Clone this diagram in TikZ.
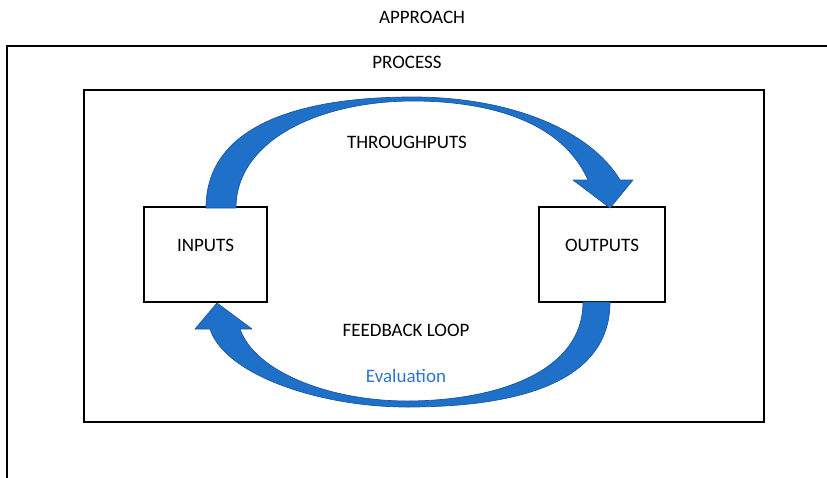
\documentclass[tikz,border=0pt]{standalone}
\usepackage{fontspec}
\setmainfont{Carlito}
\definecolor{arrowblue}{RGB}{30,112,200}
\definecolor{arrowedge}{RGB}{28,88,160}
\definecolor{evalblue}{RGB}{46,117,204}
\begin{document}
\begin{tikzpicture}[x=1pt,y=-1pt,
  every node/.style={font=\fontsize{19}{23}\selectfont},
  lbl/.style={anchor=base, inner sep=0pt},
  frame/.style={draw=black, line width=1.8pt},
  boxnode/.style={draw=black, line width=1.6pt, minimum width=123pt, minimum height=95pt, inner sep=0pt},
  bigarrow/.style={fill=arrowblue, draw=arrowedge, line width=0.7pt, line join=round}]
\useasboundingbox (0,0) rectangle (827,477);
% outer frame (open right and bottom)
\coordinate (obl) at (7,480);
\coordinate (otl) at (7,46);
\coordinate (otr) at (830,46);
\draw[frame] (obl) -- (otl) -- (otr);
% inner frame
\coordinate (itl) at (84,90);
\coordinate (ibr) at (764,422);
\draw[frame] (itl) rectangle (ibr);
% labels
\node[lbl] (approach) at (422,23.3) {APPROACH};
\node[lbl] (process) at (407,68.3) {PROCESS};
\node[lbl] (through) at (407,148) {THROUGHPUTS};
\node[lbl] (feedback) at (406,336) {FEEDBACK LOOP};
\node[lbl, text=evalblue] (evaluation) at (406,382) {Evaluation};
% boxes
\node[boxnode] (inputs) at (205.5,254.5) {};
\node[boxnode, minimum width=126pt] (outputs) at (602,254.5) {};
\node[lbl] (inputstext) at (205.5,251) {INPUTS};
\node[lbl] (outputstext) at (602,251) {OUTPUTS};
% top curved arrow (throughputs)
\draw[bigarrow] (206,208) .. controls (206,130) and (290,97) .. (413,97)
  .. controls (510,97) and (590,130) .. (620,180)
  -- (633,180) -- (610,208) -- (573,180) -- (588,180)
  .. controls (560,117) and (480,101) .. (413,101)
  .. controls (320,101) and (236,140) .. (236,208)
  -- cycle;
% bottom curved arrow (feedback loop)
\draw[bigarrow] (610,302) .. controls (610,390) and (500,407) .. (407,407)
  .. controls (320,407) and (225,375) .. (210,329)
  -- (195,329) -- (217,303) -- (252,329) -- (240,329)
  .. controls (255,372) and (330,401) .. (407,401)
  .. controls (490,401) and (583,375) .. (583,302)
  -- cycle;
\end{tikzpicture}
\end{document}
